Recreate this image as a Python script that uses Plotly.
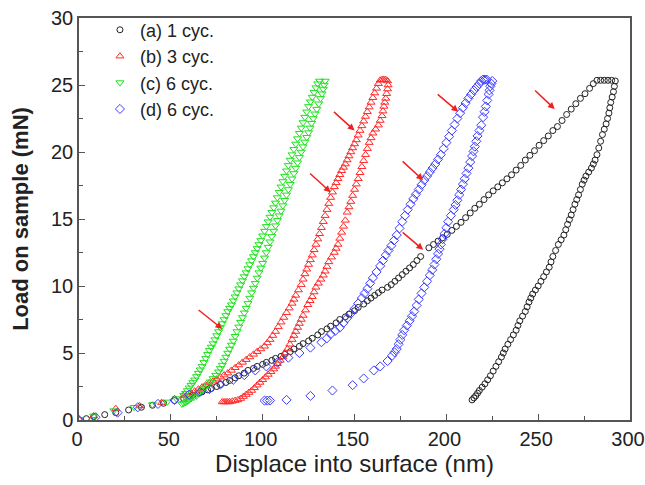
import plotly.graph_objects as go

# ---------------- data ----------------
a_load_x = [0, 4, 8, 14, 20, 27, 34, 40, 46, 52, 57, 60, 62, 65, 67, 70, 72, 75, 77, 80, 82, 85, 87, 90, 92, 95, 97,
            100, 102, 105, 107, 110, 112, 115, 117, 120, 122, 125, 127, 130, 132, 135, 137, 140, 142, 145, 147, 150,
            152, 155, 157, 159, 161, 163, 165, 168, 170, 172, 174, 176, 178, 180, 182, 184, 186,
            190.5, 193, 195.5, 198, 200.5, 203, 205.5, 208, 210.5, 213, 215.5, 218, 220.5, 223, 225.5, 228, 230.5,
            233, 235.5, 238, 240.5, 243, 245.5, 248, 250.5, 253, 255.5, 258, 260.5, 263, 265.5, 268, 270.5, 273,
            275.5, 278, 280, 282, 284, 286, 288, 290]
a_load_y = [0, 0.1, 0.25, 0.4, 0.55, 0.75, 0.95, 1.1, 1.25, 1.45, 1.6, 1.75, 1.85, 2.0, 2.1, 2.25, 2.35, 2.5, 2.65,
            2.8, 2.95, 3.15, 3.3, 3.5, 3.7, 3.85, 4.0, 4.15, 4.3, 4.45, 4.6, 4.75, 4.9, 5.1, 5.3, 5.5, 5.7, 5.9, 6.1,
            6.35, 6.6, 6.8, 7.0, 7.25, 7.5, 7.7, 7.9, 8.15, 8.4, 8.65, 8.9, 9.1, 9.3, 9.5, 9.7, 9.9, 10.1, 10.35,
            10.6, 10.85, 11.1, 11.35, 11.6, 11.9, 12.2,
            12.85, 13.1, 13.35, 13.6, 13.85, 14.15, 14.45, 14.75, 15.1, 15.45, 15.8, 16.1, 16.45, 16.8, 17.1, 17.4,
            17.7, 18.0, 18.3, 18.65, 19.0, 19.4, 19.75, 20.1, 20.5, 20.85, 21.2, 21.6, 21.9, 22.35, 22.8, 23.2,
            23.6, 24.0, 24.35, 24.75, 25.1, 25.35, 25.35, 25.35, 25.35, 25.35]
a_unload_x = [292, 291.5, 291, 290.3, 289.5, 289, 288.5, 287.8, 287, 286, 285, 284, 283, 282, 281, 280, 279, 277.5,
              276, 275, 274, 273, 272, 271, 270, 269, 268, 267, 266, 265, 264, 262.5, 261, 259.5, 258, 257, 256,
              254.5, 253, 251.5, 250, 248.5, 247, 246, 245, 244, 243, 241.5, 240, 239, 238, 236.5, 235, 233.5,
              232, 231, 230, 228.5, 227, 225.5, 224, 222.5, 221, 219.5, 218, 217, 216, 215, 214]
a_unload_y = [25.3, 24.9, 24.5, 24.1, 23.7, 23.3, 22.9, 22.5, 22.1, 21.7, 21.3, 20.8, 20.3, 19.8, 19.4, 19.1, 18.8,
              18.5, 18.2, 17.9, 17.6, 17.2, 16.8, 16.45, 16.1, 15.7, 15.3, 14.95, 14.6, 14.2, 13.8, 13.45, 13.1,
              12.65, 12.2, 11.8, 11.4, 11.05, 10.7, 10.35, 10.0, 9.7, 9.4, 9.1, 8.8, 8.45, 8.1, 7.75, 7.4, 7.05,
              6.7, 6.35, 6.0, 5.65, 5.3, 5.0, 4.7, 4.35, 4.0, 3.65, 3.3, 3.0, 2.7, 2.45, 2.2, 2.0, 1.8, 1.65, 1.5]

b_load_x = [0, 8, 20, 33, 45, 57, 59, 61, 63, 65, 67, 69, 71, 73, 75, 77, 79, 81, 83, 85, 87, 89, 91, 93, 95, 97,
            99, 101, 102.5, 104, 105.5, 107, 108.5, 110, 111.5, 113, 114.5, 116, 117, 118, 119.5, 121, 122, 123,
            124, 125, 126, 127, 128, 129, 130, 131, 132, 133, 134, 135, 136, 137, 138, 139, 140, 141, 142, 143,
            144, 145, 146, 147, 148, 149, 150, 151, 152, 153, 154, 155, 156, 157, 158, 159, 160, 161, 162, 163,
            164, 165, 166, 167]
b_load_y = [0.05, 0.3, 0.85, 1.05, 1.3, 1.8, 1.9, 2.0, 2.15, 2.3, 2.45, 2.6, 2.75, 2.9, 3.05, 3.2, 3.35, 3.5, 3.7,
            3.9, 4.1, 4.3, 4.5, 4.7, 4.9, 5.1, 5.3, 5.5, 5.75, 6.0, 6.3, 6.6, 6.95, 7.3, 7.65, 8.0, 8.35, 8.7, 9.0,
            9.3, 9.7, 10.1, 10.5, 10.9, 11.25, 11.6, 11.95, 12.3, 12.7, 13.1, 13.5, 13.9, 14.35, 14.8, 15.25, 15.7,
            16.15, 16.6, 17.0, 17.4, 17.7, 18.0, 18.3, 18.6, 18.85, 19.1, 19.4, 19.7, 20.0, 20.3, 20.6, 20.9,
            21.25, 21.6, 21.95, 22.3, 22.65, 23.0, 23.35, 23.7, 24.05, 24.4, 24.75, 25.1, 25.35, 25.4, 25.4, 25.4]
b_unload_x = [168, 168.3, 168, 167.5, 167, 166.5, 166, 165.5, 165, 164, 163, 161.5, 160, 159, 158, 157, 156, 155,
              154, 153, 152, 151, 150, 149, 148, 147, 146, 145, 144, 143, 142, 141, 140, 139, 137.5, 136, 135, 134,
              133, 131.7, 130.3, 129, 128, 127, 125.8, 124.6, 123.3, 122, 121, 120, 119, 118, 117, 116, 114.8,
              113.5, 112.3, 111, 109.5, 108, 107, 106, 104.5, 103, 101.5, 100, 98.5, 97, 95.5, 94, 92.5, 91, 89.5,
              88, 86.5, 85, 83.5, 82, 81, 80, 79, 78]
b_unload_y = [25.3, 25.0, 24.7, 24.35, 24.0, 23.7, 23.4, 23.05, 22.7, 22.35, 22.0, 21.7, 21.4, 21.05, 20.7, 20.25,
              19.8, 19.35, 18.9, 18.45, 18.0, 17.6, 17.2, 16.75, 16.3, 15.9, 15.5, 14.9, 14.45, 14.0, 13.55, 13.1,
              12.8, 12.5, 12.15, 11.8, 11.45, 11.1, 10.8, 10.5, 10.2, 9.9, 9.55, 9.2, 8.9, 8.6, 8.2, 7.8, 7.5, 7.2,
              6.9, 6.6, 6.3, 6.0, 5.65, 5.3, 5.0, 4.7, 4.45, 4.2, 4.0, 3.8, 3.6, 3.4, 3.2, 3.0, 2.8, 2.6, 2.4, 2.2,
              2.05, 1.9, 1.75, 1.6, 1.5, 1.45, 1.4, 1.35, 1.35, 1.35, 1.35, 1.35]

c_load_x = [0, 8, 19, 30, 40, 48, 53, 57, 58, 59, 60, 61, 62, 63, 64, 65, 66, 67, 68, 69, 70, 71, 72, 73, 74, 75,
            76, 77, 78, 79, 80, 81, 82, 83, 84, 85, 86, 87, 88, 89, 90, 91, 92, 93, 94, 95, 96, 97, 98, 99, 100,
            101, 102, 103, 104, 105, 106, 107, 108, 109, 110, 111, 112, 113, 114, 115, 116, 117, 118, 119, 120,
            121, 122, 123, 124, 125, 126, 127, 128, 129, 130, 131]
c_load_y = [0.05, 0.3, 0.7, 0.95, 1.15, 1.35, 1.6, 1.85, 2.0, 2.2, 2.4, 2.6, 2.8, 3.0, 3.25, 3.5, 3.75, 4.0, 4.3,
            4.6, 4.9, 5.2, 5.45, 5.7, 6.0, 6.3, 6.6, 6.9, 7.2, 7.5, 7.8, 8.1, 8.35, 8.6, 8.9, 9.2, 9.5, 9.8, 10.1,
            10.4, 10.7, 11.0, 11.3, 11.6, 11.9, 12.2, 12.5, 12.8, 13.1, 13.4, 13.75, 14.1, 14.45, 14.8, 15.15,
            15.5, 15.85, 16.2, 16.6, 17.0, 17.4, 17.8, 18.2, 18.6, 19.0, 19.4, 19.8, 20.2, 20.6, 21.0, 21.4, 21.8,
            22.2, 22.6, 23.0, 23.4, 23.75, 24.1, 24.45, 24.8, 25.1, 25.3]
c_unload_x = [134, 133.5, 133, 132.3, 131.5, 130.5, 129.5, 128.5, 127.5, 126.6, 125.8, 125, 124, 123, 122, 121, 120,
              119, 118, 117, 116, 115, 114, 113, 112, 111, 110, 109, 108, 107, 106, 105, 104, 103, 102, 101, 100,
              99, 98, 97, 96, 95, 94, 93, 92, 91, 90, 89, 88, 87, 86, 85, 84, 83, 82, 81, 80, 79, 78, 77,
              76, 74.5, 73, 71.5, 70, 68.5, 67, 65.5, 64, 62.5, 61, 60, 59, 58, 57, 56]
c_unload_y = [25.3, 25.0, 24.7, 24.35, 24.0, 23.6, 23.2, 22.85, 22.5, 22.15, 21.8, 21.45, 21.1, 20.75, 20.4, 20.0,
              19.6, 19.2, 18.8, 18.4, 18.0, 17.6, 17.2, 16.8, 16.4, 16.0, 15.6, 15.25, 14.9, 14.5, 14.1, 13.7, 13.3,
              12.9, 12.5, 12.1, 11.7, 11.35, 11.0, 10.6, 10.2, 9.85, 9.5, 9.1, 8.7, 8.35, 8.0, 7.65, 7.3, 6.95,
              6.6, 6.25, 5.9, 5.6, 5.3, 5.0, 4.7, 4.4, 4.1, 3.85, 3.6, 3.35, 3.1, 2.85, 2.6, 2.4, 2.2, 2.0, 1.8,
              1.7, 1.6, 1.5, 1.4, 1.3, 1.25, 1.2]

d_load_x = [0, 9, 21, 32, 43, 52, 60, 66, 71, 77, 84, 90, 96, 102, 108, 114, 120, 126, 132, 135, 137, 139.5, 142,
            144, 146, 148, 150, 152, 154, 155.5, 157, 158.5, 160, 162, 164, 165.5, 167, 168.5, 170, 171.5, 173,
            174.5, 176, 177.5, 179, 180.5, 182, 183.5, 185, 186.5, 188, 189.5, 191, 192.5, 194, 195.5, 197, 198.5,
            200, 201.5, 203, 204.5, 206, 207.5, 209, 210.5, 212, 213.5, 215, 216.5, 218, 219, 220, 221, 222]
d_load_y = [0, 0.2, 0.55, 0.95, 1.2, 1.5, 1.9, 2.1, 2.3, 2.65, 3.0, 3.35, 3.7, 4.0, 4.3, 4.65, 5.0, 5.4, 5.8, 6.1,
            6.4, 6.65, 6.9, 7.25, 7.6, 7.95, 8.3, 8.7, 9.1, 9.45, 9.8, 10.2, 10.6, 11.05, 11.5, 11.9, 12.3, 12.65,
            13.0, 13.4, 13.8, 14.3, 14.8, 15.25, 15.7, 16.1, 16.5, 16.85, 17.2, 17.55, 17.9, 18.2, 18.5, 18.8,
            19.1, 19.45, 19.8, 20.25, 20.7, 21.15, 21.6, 22.05, 22.5, 22.9, 23.3, 23.65, 24.0, 24.3, 24.6, 24.85,
            25.1, 25.3, 25.4, 25.4, 25.4]
d_unload_x = [225, 224.5, 224, 223.5, 223, 222.3, 221.5, 220.8, 220, 219, 218, 217, 216.3, 215.5, 214.8, 214, 213,
              212, 211, 210, 209, 208, 207, 206, 205, 204, 202.5, 201, 200, 199, 198, 197, 196.3, 195.5, 194.5,
              193.5, 192.3, 191, 189.5, 188, 186.5, 185, 183.8, 182.5, 181.3, 180, 178.5, 177, 176, 175, 174, 173,
              171.8, 170.5, 168, 164, 160.5, 155, 149, 138, 126, 113, 104, 102.5, 101]
d_unload_y = [25.3, 25.1, 24.9, 24.6, 24.3, 23.85, 23.4, 23.0, 22.6, 22.0, 21.6, 21.2, 20.8, 20.4, 20.05, 19.7,
              19.25, 18.8, 18.4, 18.0, 17.6, 17.2, 16.8, 16.4, 16.05, 15.7, 15.25, 14.8, 14.35, 13.9, 13.5, 13.1,
              12.75, 12.4, 12.0, 11.6, 11.2, 10.8, 10.35, 9.9, 9.45, 9.0, 8.55, 8.1, 7.75, 7.4, 7.05, 6.7, 6.35, 6.0,
              5.65, 5.3, 5.05, 4.8, 4.4, 4.0, 3.7, 3.1, 2.6, 2.2, 1.8, 1.5, 1.45, 1.45, 1.45]

# arrows: (tail x, tail y, head x, head y)
arrows = [
    (64.3, 8.3, 78.0, 6.8),
    (125.0, 18.5, 137.0, 17.0),
    (138.0, 23.1, 150.0, 21.6),
    (194.5, 24.4, 206.5, 23.0),
    (175.4, 19.4, 187.4, 17.9),
    (175.4, 14.1, 187.4, 12.7),
    (247.5, 24.7, 259.0, 23.2),
]

names = ["(a) 1 cyc.", "(b) 3 cyc.", "(c) 6 cyc.", "(d) 6 cyc."]
colors = ["#222222", "#ff2a2a", "#1fe01f", "#3c3cff"]
symbols = ["circle-open", "triangle-up-open", "triangle-down-open", "diamond-open"]
sizes = [6, 7, 7, 7]

series = [
    (a_load_x + a_unload_x, a_load_y + a_unload_y),
    (b_load_x + b_unload_x, b_load_y + b_unload_y),
    (c_load_x + c_unload_x, c_load_y + c_unload_y),
    (d_load_x + d_unload_x, d_load_y + d_unload_y),
]

FONT = "Liberation Sans, Arial, sans-serif"

fig = go.Figure()
for (xs, ys), name, col, sym, sz in zip(series, names, colors, symbols, sizes):
    fig.add_trace(go.Scatter(
        x=xs, y=ys, mode="markers", name=name, cliponaxis=True,
        marker=dict(symbol=sym, size=sz, color=col, line=dict(width=1, color=col)),
    ))

for tx, ty, hx, hy in arrows:
    fig.add_annotation(
        x=hx, y=hy, ax=tx, ay=ty, xref="x", yref="y", axref="x", ayref="y",
        text="", showarrow=True, arrowhead=2, arrowsize=0.9, arrowwidth=1.5, arrowcolor="#f02020",
    )

axis_common = dict(
    showline=True, linecolor="#555555", linewidth=1.5, mirror=True,
    ticks="inside", ticklen=6, tickwidth=1.2, tickcolor="#555555",
    showgrid=False, zeroline=False, automargin=False, ticklabeloverflow="allow",
    tickfont=dict(family=FONT, size=20, color="#222222"),
)

fig.update_layout(
    width=645, height=485,
    margin=dict(l=79, r=15, t=15, b=65),
    paper_bgcolor="white", plot_bgcolor="white",
    font=dict(family=FONT, color="#222222"),
    showlegend=True,
    legend=dict(
        x=0.038, y=1.016, xanchor="left", yanchor="top",
        bgcolor="rgba(0,0,0,0)", borderwidth=0,
        font=dict(family=FONT, size=18, color="#222222"),
        tracegroupgap=0, itemwidth=30,
    ),
    xaxis=dict(
        range=[0, 300], tickmode="array", tickvals=[0, 50, 100, 150, 200, 250, 300],
        ticklabelshift=-2,
        minor=dict(ticks="inside", ticklen=4, tickcolor="#555555", tickvals=[25, 75, 125, 175, 225, 275]),
        title=dict(text="Displace into surface (nm)", font=dict(family=FONT, size=24, color="#222222"),
                   standoff=2),
        **axis_common,
    ),
    yaxis=dict(
        range=[0, 30], tickmode="array", tickvals=[0, 5, 10, 15, 20, 25, 30],
        minor=dict(ticks="inside", ticklen=4, tickcolor="#555555",
                   tickvals=[2.5, 7.5, 12.5, 17.5, 22.5, 27.5]),
        title=dict(text="<b>Load on sample (mN)</b>", font=dict(family=FONT, size=22, color="#222222"),
                   standoff=16),
        **axis_common,
    ),
)

# remove the default page margin so the 645x485 figure fills the window exactly
fig.write_html("out.html", config={"displayModeBar": False},
               post_script="document.body.style.margin='0';document.body.style.overflow='hidden';")
